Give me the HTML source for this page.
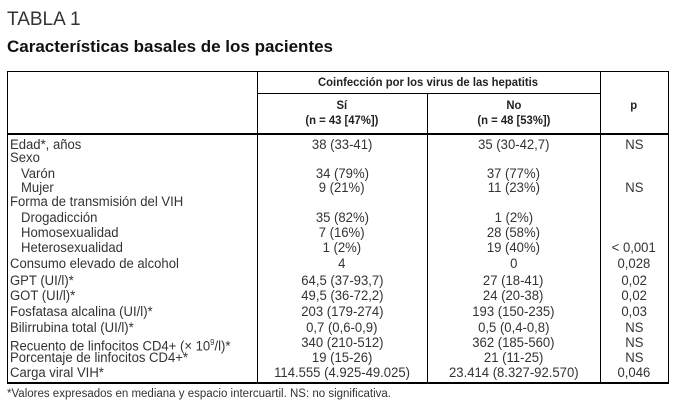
<!DOCTYPE html>
<html><head><meta charset="utf-8">
<style>
body{margin:0;width:676px;height:413px;background:#fff;position:relative;overflow:hidden;
font-family:"Liberation Sans",sans-serif;color:#222}
.a{position:absolute;white-space:nowrap}
.ln{position:absolute;background:#000}
.r{position:absolute;font-size:13.5px;line-height:16px;height:16px;color:#333;white-space:nowrap}
.r span{display:inline-block;transform:scaleX(0.97)}
.l span{transform-origin:left center}
.c span{transform-origin:center center}
.h span{display:inline-block;transform:scaleX(0.94);transform-origin:center}
</style></head><body>
<div class="a" style="left:7px;top:9px;font-size:19px;color:#333">TABLA 1</div>
<div class="a" style="left:7px;top:37px;font-size:17px;font-weight:bold;color:#111">Características basales de los pacientes</div>

<div class="ln" style="left:7px;top:71px;width:662px;height:1px"></div>
<div class="ln" style="left:7px;top:71px;width:1px;height:313px"></div>
<div class="ln" style="left:668px;top:71px;width:1px;height:313px"></div>
<div class="ln" style="left:257px;top:71px;width:1px;height:313px"></div>
<div class="ln" style="left:600px;top:71px;width:1px;height:313px"></div>
<div class="ln" style="left:427px;top:93px;width:1px;height:291px"></div>
<div class="ln" style="left:257px;top:93px;width:343px;height:1px"></div>
<div class="ln" style="left:7px;top:133px;width:662px;height:1.5px"></div>
<div class="ln" style="left:7px;top:382px;width:662px;height:1.5px"></div>

<div class="a h" style="left:257px;width:343px;top:75px;text-align:center;font-size:12px;font-weight:bold"><span>Coinfección por los virus de las hepatitis</span></div>
<div class="a h" style="left:257px;width:170px;top:98px;text-align:center;font-size:12px;font-weight:bold;line-height:15px"><span>Sí<br>(n = 43 [47%])</span></div>
<div class="a h" style="left:427px;width:173px;top:98px;text-align:center;font-size:12px;font-weight:bold;line-height:15px"><span>No<br>(n = 48 [53%])</span></div>
<div class="a h" style="left:600px;width:68px;top:98px;text-align:center;font-size:12px;font-weight:bold"><span>p</span></div>

<div id="rows"></div>
<div class="a" style="left:7px;top:388px;font-size:11.5px;color:#333">*Valores expresados en mediana y espacio intercuartil. NS: no significativa.</div>
<script>
const labels=["Edad*, años","Sexo","Varón","Mujer","Forma de transmisión del VIH","Drogadicción","Homosexualidad","Heterosexualidad","Consumo elevado de alcohol","GPT (UI/l)*","GOT (UI/l)*","Fosfatasa alcalina (UI/l)*","Bilirrubina total (UI/l)*","Recuento de linfocitos CD4+ (× 10<sup style='font-size:8px'>9</sup>/l)*","Porcentaje de linfocitos CD4+*","Carga viral VIH*"];
const indent=[0,0,1,1,0,1,1,1,0,0,0,0,0,0,0,0];
const si=["38 (33-41)","","34 (79%)","9 (21%)","","35 (82%)","7 (16%)","1 (2%)","4","64,5 (37-93,7)","49,5 (36-72,2)","203 (179-274)","0,7 (0,6-0,9)","340 (210-512)","19 (15-26)","114.555 (4.925-49.025)"];
const no=["35 (30-42,7)","","37 (77%)","11 (23%)","","1 (2%)","28 (58%)","19 (40%)","0","27 (18-41)","24 (20-38)","193 (150-235)","0,5 (0,4-0,8)","362 (185-560)","21 (11-25)","23.414 (8.327-92.570)"];
const pv=["NS","","","NS","","","","< 0,001","0,028","0,02","0,02","0,03","NS","NS","NS","0,046"];
const centers=[145,158,174,188,202,218,233,248,264,281,296,312,328,343,358,373];
const c=document.getElementById('rows');
labels.forEach((l,i)=>{
 const y=centers[i]-8;
 const a=document.createElement('div');a.className='r l';a.style.left=(indent[i]?21:10)+'px';a.style.top=y+'px';a.innerHTML='<span>'+l+'</span>';
 
 
 c.appendChild(a);
 const b=document.createElement('div');b.className='r c';b.style.left='257px';b.style.width='170px';b.style.textAlign='center';b.style.top=y+'px';b.innerHTML='<span>'+si[i]+'</span>';
 
 
 c.appendChild(b);
 const d=document.createElement('div');d.className='r c';d.style.left='427px';d.style.width='173px';d.style.textAlign='center';d.style.top=y+'px';d.innerHTML='<span>'+no[i]+'</span>';
 
 
 c.appendChild(d);
 const e=document.createElement('div');e.className='r c';e.style.left='600px';e.style.width='68px';e.style.textAlign='center';e.style.top=y+'px';e.innerHTML='<span>'+pv[i]+'</span>';
 
 
 c.appendChild(e);
});
</script>
</body></html>
